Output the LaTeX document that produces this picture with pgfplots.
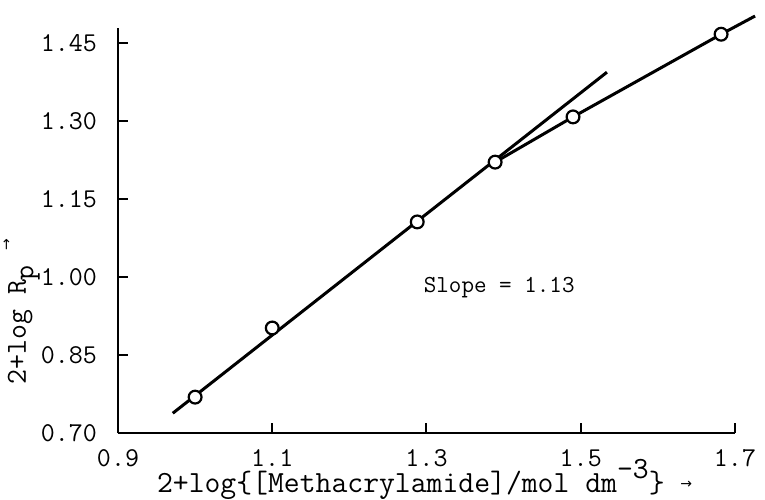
\documentclass[border=0pt]{standalone}
\usepackage{fontspec}
\newfontfamily\dv{DejaVu Sans}
\usepackage{pgfplots}
\pgfplotsset{compat=1.18}
\begin{document}
\begin{tikzpicture}
\begin{axis}[
  scale only axis,
  width=308.5pt, height=202.5pt,
  xmin=0.9, xmax=1.7, ymin=0.70, ymax=1.479,
  axis lines*=left,
  axis line style={line width=1.3pt},
  tick align=inside,
  major tick length=5pt,
  tick style={line width=1pt, black},
  xtick={0.9,1.1,1.3,1.5,1.7},
  ytick={0.70,0.85,1.00,1.15,1.30,1.45},
  xticklabels={0.9,1.1,1.3,1.5,1.7},
  yticklabels={0.70,0.85,1.00,1.15,1.30,1.45},
  /pgf/number format/assume math mode=true,
  tick label style={font=\ttfamily\fontsize{13.6}{15}\selectfont},
  xticklabel style={yshift=-4.5pt},
  yticklabel style={xshift=-7pt},
  clip=false,
  xlabel={2+log\{[Methacrylamide]/mol dm\raisebox{1.1ex}{-3}\} \raisebox{0.3ex}{\dv\scriptsize →}},
  xlabel style={font=\ttfamily\fontsize{15.4}{17}\selectfont, at={(axis description cs:0.497,-0.148)}, anchor=base},
  ylabel={2+log R\raisebox{-0.6ex}{p} \raisebox{1.2ex}{\dv\scriptsize →}},
  ylabel style={font=\ttfamily\fontsize{14.5}{16}\selectfont, at={(axis description cs:-0.156,0.30)}, anchor=center},
]
\addplot[black, line width=1.5pt] coordinates {(0.971,0.738) (1.534,1.394)};
\addplot[black, line width=1.5pt] coordinates {(1.389,1.221) (1.49,1.308) (1.682,1.467) (1.726,1.502)};
\addplot[only marks, mark=*, mark size=3.2pt, mark options={fill=white, draw=black, line width=1.1pt}]
  coordinates {(1.0,0.769) (1.1,0.902) (1.288,1.106) (1.389,1.221) (1.49,1.308) (1.682,1.467)};
\node[anchor=base west, font=\ttfamily\fontsize{12.2}{14}\selectfont, inner sep=0pt] at (axis cs:1.296,0.971) {Slope = 1.13};
\end{axis}
\pgfresetboundingbox
\path (-59pt,-33pt) rectangle (323.5pt,216.5pt);
\end{tikzpicture}
\end{document}
